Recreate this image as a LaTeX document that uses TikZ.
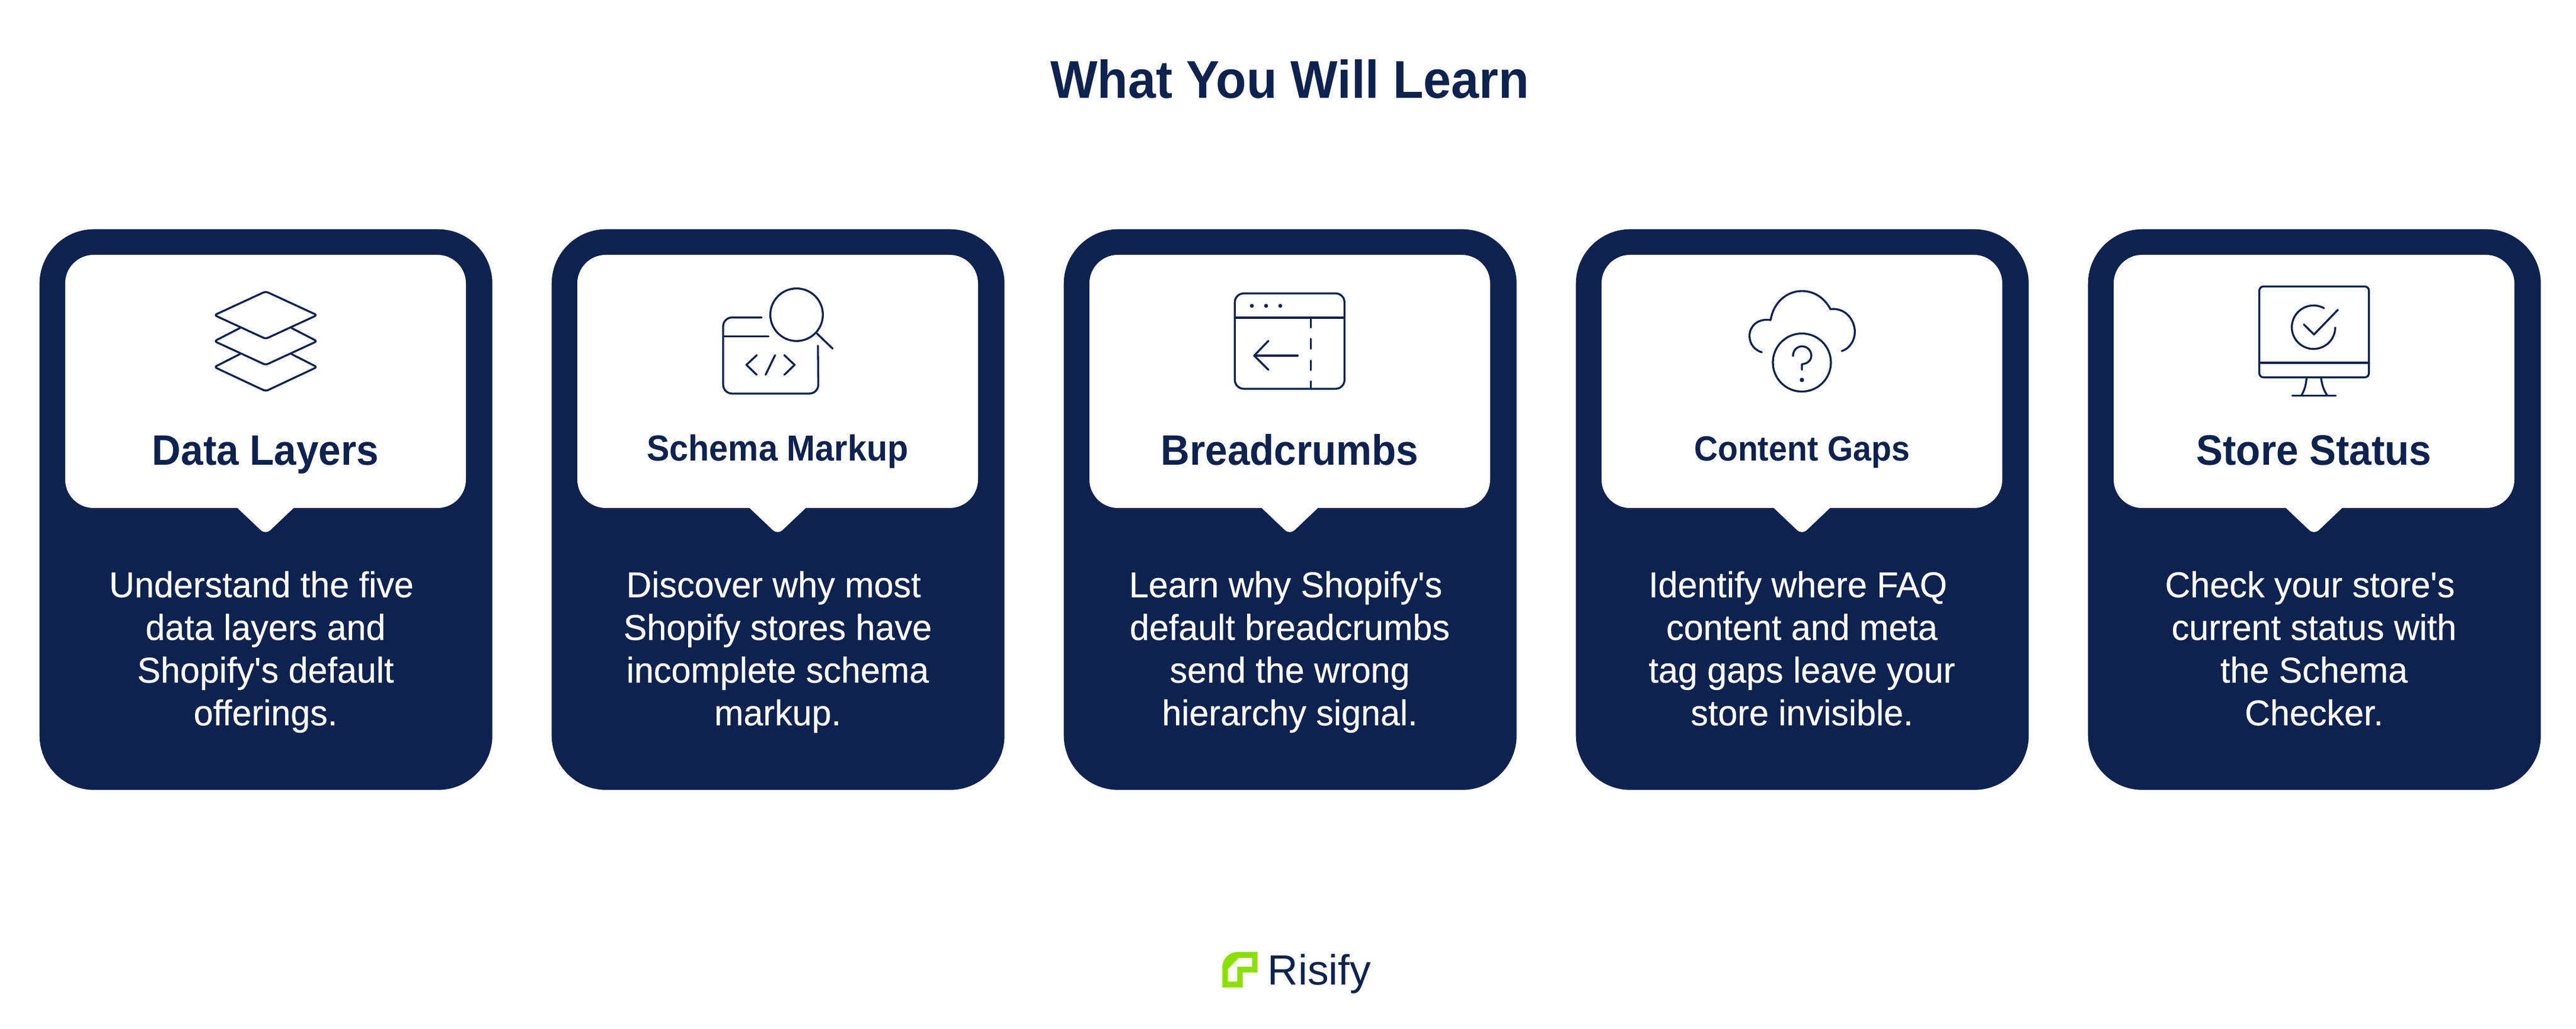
\documentclass[tikz,border=0pt]{standalone}
\usepackage{fontspec}
\setmainfont[FakeStretch=0.94]{Liberation Sans}
\newfontfamily\bodyfont[FakeStretch=0.98,FakeBold=0.3]{Liberation Sans}
\newfontfamily\logofont{Liberation Sans}
\newcommand{\brk}{\hspace*{0.23em}\\}
\definecolor{navy}{HTML}{0D224F}
\definecolor{risifygreen}{HTML}{8CE000}
\tikzset{
	cardbox/.style={fill=navy, rounded corners=0.92cm, minimum width=7.64cm, minimum height=9.46cm, anchor=north west, inner sep=0pt},
	titletext/.style={text=navy, font=\fontsize{25.5}{30}\selectfont\bfseries},
	headtext/.style={text=navy, font=\fontsize{20.4}{24}\selectfont\bfseries},
	headsmall/.style={text=navy, font=\fontsize{17.4}{20}\selectfont\bfseries},
	bodytext/.style={text=white, align=center, anchor=north, inner sep=0pt, font=\bodyfont\fontsize{17.2}{20.5}\selectfont},
	iconline/.style={draw=navy, line width=0.033cm, line cap=round, line join=round},
	zoomgrid/.style={x=0.03333mm, y=-0.03333mm},
	bubble/.pic={
		\fill[white, rounded corners=0.48cm] (0.44,-0.44) rectangle (7.20,-4.71);
		\fill[white] (3.335,-4.70) -- (3.735,-5.08) .. controls (3.79,-5.13) and (3.85,-5.13) .. (3.905,-5.08) -- (4.305,-4.70) -- cycle;
	}
}
\begin{document}
\begin{tikzpicture}
	\useasboundingbox (0,0) rectangle (43.46,-17.36);
	\node [titletext, anchor=base] (title) at (21.76,-1.66) {What You Will Learn};

	% cards
	\node [cardbox] (card1) at (0.66,-3.86) {};
	\node [cardbox] (card2) at (9.30,-3.86) {};
	\node [cardbox] (card3) at (17.94,-3.86) {};
	\node [cardbox] (card4) at (26.58,-3.86) {};
	\node [cardbox] (card5) at (35.22,-3.86) {};
	\pic at (card1.north west) {bubble};
	\pic at (card2.north west) {bubble};
	\pic at (card3.north west) {bubble};
	\pic at (card4.north west) {bubble};
	\pic at (card5.north west) {bubble};

	% headings
	\node [headtext, anchor=base] (head1) at (4.48,-7.85) {Data Layers};
	\node [headsmall, anchor=base] (head2) at (13.12,-7.78) {Schema Markup};
	\node [headtext, anchor=base] (head3) at (21.76,-7.85) {Breadcrumbs};
	\node [headsmall, anchor=base, font=\fontsize{16.8}{20}\selectfont\bfseries] (head4) at (30.40,-7.78) {Content Gaps};
	\node [headtext, anchor=base] (head5) at (39.04,-7.85) {Store Status};

	% body text
	\node [bodytext] (body1) at (4.48,-9.63) {Understand the five\brk data layers and\brk Shopify\textquotesingle s default\brk offerings.};
	\node [bodytext] (body2) at (13.12,-9.63) {Discover why most\brk Shopify stores have\brk incomplete schema\brk markup.};
	\node [bodytext] (body3) at (21.76,-9.63) {Learn why Shopify\textquotesingle s\brk default breadcrumbs\brk send the wrong\brk hierarchy signal.};
	\node [bodytext] (body4) at (30.40,-9.63) {Identify where FAQ\brk content and meta\brk tag gaps leave your\brk store invisible.};
	\node [bodytext] (body5) at (39.04,-9.63) {Check your store\textquotesingle s\brk current status with\brk the Schema\brk Checker.};

	% layers icon
	\begin{scope}[shift={(3.2,-4.7)}, zoomgrid, iconline, rounded corners=0.4mm]
		\draw (385,65) -- (645,185) -- (385,305) -- (125,185) -- cycle;
		\draw (255,250) -- (125,317) -- (385,437) -- (645,317) -- (515,250);
		\draw (255,382) -- (125,448) -- (385,570) -- (645,448) -- (515,382);
	\end{scope}

	% code window icon
	\begin{scope}[shift={(11.5,-4.4)}, zoomgrid, iconline]
		\draw [rounded corners=1.5mm] (405,287) -- (210,287) -- (210,672) -- (692,672) -- (690,430);
		\draw (215,383) -- (440,383);
		\draw (380,478) -- (328,527) -- (380,577);
		\draw (473,478) -- (425,577);
		\draw (520,478) -- (572,527) -- (520,577);
		\draw (582,273) circle [radius=133];
		\draw (685,368) -- (765,445);
	\end{scope}

	% browser icon
	\begin{scope}[shift={(20.3,-4.6)}, zoomgrid, iconline]
		\draw [rounded corners=1.5mm] (160,105) rectangle (715,588);
		\draw (160,228) -- (715,228);
		\fill [navy] (246,168) circle [radius=10];
		\fill [navy] (318,168) circle [radius=10];
		\fill [navy] (390,168) circle [radius=10];
		\draw (545,228) -- (545,278);
		\draw (545,335) -- (545,385);
		\draw (545,445) -- (545,493);
		\draw (545,550) -- (545,588);
		\draw (478,420) -- (258,420);
		\draw (330,345) -- (258,420) -- (330,492);
	\end{scope}

	% cloud icon
	\begin{scope}[shift={(29,-4.6)}, zoomgrid, iconline]
		\draw (217,403) .. controls (180,392) and (155,360) .. (155,320) .. controls (155,272) and (195,230) .. (262,240) .. controls (275,150) and (345,93) .. (420,93) .. controls (485,93) and (535,130) .. (565,185) .. controls (635,175) and (688,235) .. (688,300) .. controls (688,345) and (660,385) .. (622,397);
		\draw (420,455) circle [radius=147];
		\draw (375,422) .. controls (375,392) and (397,373) .. (421,373) .. controls (447,373) and (468,395) .. (468,420) .. controls (468,445) and (445,463) .. (420,463) -- (420,492);
		\fill [navy] (420,543) circle [radius=11];
	\end{scope}

	% monitor icon
	\begin{scope}[shift={(37.7,-4.6)}, zoomgrid, iconline]
		\draw [rounded corners=0.7mm] (125,70) rectangle (680,530);
		\draw (125,456) -- (680,456);
		\draw (365,530) .. controls (362,565) and (355,595) .. (337,623);
		\draw (437,530) .. controls (442,565) and (450,595) .. (470,623);
		\draw (292,623) -- (512,623);
		\draw (453,180) arc [start angle=-61, end angle=-359, radius=110];
		\draw (350,262) -- (402,313) -- (523,188);
	\end{scope}

	% logo
	\begin{scope}[shift={(20.2,-15.8)}, zoomgrid]
		\fill [risifygreen, even odd rule] (127,258) -- (127,155) .. controls (127,110) and (165,78) .. (205,78) -- (305,78) -- (305,182) -- (230,182) -- (230,258) -- cycle (155,228) -- (155,165) -- (210,108) -- (277,108) -- (277,153) -- (202,153) -- (202,228) -- cycle;
	\end{scope}
	\node [text=navy, anchor=base west, inner sep=0pt, font=\logofont\fontsize{20.3}{24}\selectfont] (logotext) at (21.38,-16.61) {Risify};
\end{tikzpicture}
\end{document}
